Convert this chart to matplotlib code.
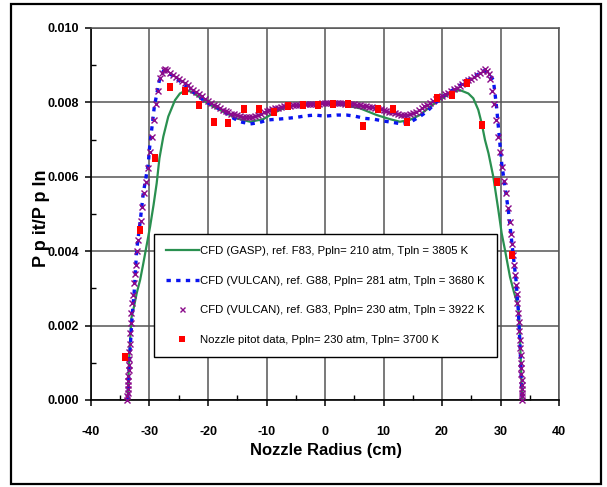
import matplotlib
matplotlib.use("Agg")
import matplotlib.pyplot as plt
from matplotlib.patches import Rectangle
from matplotlib.ticker import MultipleLocator, FormatStrFormatter

# ---------------- data ----------------
gasp_x = [-33.75, -33.45, -33.1, -32.65, -32.19, -31.6, -31.06, -30.5, -29.9, -29.3, -28.77,
          -28.3, -27.64, -26.79, -25.64, -24.8, -23.93, -23.08, -22.0, -21.0, -20.0, -18.8,
          -17.4, -15.1, -12.8, -10.55, -8.84, -6.55, -4.5, -2.56, 0.0, 3.13, 6.0, 8.84,
          11.1, 12.8, 14.5, 16.2, 17.95, 19.5, 21.0, 22.3, 23.08, 24.5, 25.35, 26.2, 26.78,
          27.35, 27.95, 28.77, 29.63, 30.2, 30.77, 31.62, 32.3, 33.04, 33.3, 33.5, 33.7]
gasp_y = [0.0, 1.2, 2.2, 2.51, 2.87, 3.23, 3.67, 4.15, 4.66, 5.25, 5.83,
          6.5, 7.08, 7.62, 8.06, 8.24, 8.31, 8.30, 8.20, 8.09, 7.97, 7.86,
          7.75, 7.57, 7.48, 7.55, 7.71, 7.88, 7.94, 7.97, 7.97, 7.93, 7.84, 7.66,
          7.55, 7.48, 7.53, 7.66, 7.88, 8.06, 8.20, 8.30, 8.33, 8.24, 8.11, 7.80, 7.44,
          6.99, 6.63, 6.00, 5.11, 4.48, 4.03, 3.31, 2.90, 2.51, 1.80, 0.90, 0.0]

vulcan88_x = [-33.7, -33.45, -33.2, -33.04, -32.87, -32.65, -32.48, -32.19, -31.6, -31.06,
              -30.2, -30.03, -29.18, -28.3, -27.6, -26.0, -24.0, -22.0, -20.8, -19.4,
              -17.66, -15.95, -14.5, -12.8, -11.2, -9.7, -7.98, -6.55, -4.8, -3.25, -1.7,
              0.0, 2.0, 3.7, 5.1, 6.84, 8.26, 9.97, 11.67, 13.1, 14.5, 16.2, 17.4, 18.8,
              20.5, 22.5, 24.5, 26.0, 27.3, 28.0, 28.77, 29.06, 29.35, 30.2, 31.33, 32.08,
              32.65, 33.04, 33.3, 33.5, 33.7]
vulcan88_y = [0.0, 1.0, 1.66, 2.06, 2.46, 2.82, 3.27, 4.03, 4.79, 5.56,
              6.36, 6.72, 7.88, 8.60, 8.85, 8.72, 8.47, 8.22, 8.06, 7.93,
              7.80, 7.60, 7.48, 7.42, 7.46, 7.53, 7.55, 7.57, 7.60, 7.64, 7.66,
              7.63, 7.66, 7.66, 7.63, 7.57, 7.55, 7.50, 7.46, 7.42, 7.46, 7.62, 7.75, 7.97,
              8.20, 8.40, 8.60, 8.74, 8.86, 8.78, 8.60, 8.24, 7.84, 6.36, 5.11, 4.03,
              3.22, 2.42, 1.60, 0.80, 0.0]

vulcan83_x = [-33.85, -33.8, -33.76, -33.72, -33.69, -33.66, -33.62, -33.58, -33.54, -33.5,
              -33.45, -33.4, -33.33, -33.21, -33.11, -32.99, -32.87, -32.65, -32.48, -32.31,
              -32.09, -31.91, -31.5, -31.23, -30.99, -30.65, -30.31, -29.9, -29.57, -29.28,
              -28.94, -28.6, -28.2, -27.9, -27.6, -27.3,
              -27.0, -26.5, -26.0, -25.5, -25.0, -24.5, -24.0, -23.5, -23.0, -22.5, -22.0,
              -21.5, -21.0, -20.5, -20.0, -19.5, -19.0, -18.5, -18.0, -17.5, -17.0, -16.5,
              -16.0, -15.5, -15.0, -14.5, -14.0, -13.5, -13.0, -12.5, -12.0, -11.5, -11.0,
              -10.5, -10.0, -9.5, -9.0, -8.5, -8.0, -7.5, -7.0, -6.5, -6.0, -5.5, -5.0,
              -4.5, -4.0, -3.5, -3.0, -2.5, -2.0, -1.5, -1.0, -0.5, 0.0, 0.5, 1.0, 1.5,
              2.0, 2.5, 3.0, 3.5, 4.0, 4.5, 5.0, 5.5, 6.0, 6.5, 7.0, 7.5, 8.0, 8.5, 9.0,
              9.5, 10.0, 10.5, 11.0, 11.5, 12.0, 12.5, 13.0, 13.5, 14.0, 14.5, 15.0, 15.5,
              16.0, 16.5, 17.0, 17.5, 18.0, 18.5, 19.0, 19.5, 20.0, 20.5, 21.0, 21.5, 22.0,
              22.5, 23.0, 23.5, 24.0, 24.5, 25.0, 25.5, 26.0, 26.5, 27.0, 27.35,
              27.7, 28.0, 28.2, 28.6, 28.9, 29.23, 29.63, 29.91, 30.2, 30.6, 30.94, 31.33,
              31.62, 31.79, 32.0, 32.15, 32.3, 32.48, 32.6, 32.75, 32.9, 33.0, 33.1, 33.2,
              33.3, 33.37, 33.43, 33.48, 33.52, 33.56, 33.6, 33.63, 33.66, 33.7, 33.73, 33.76]
vulcan83_y = [0.0, 0.1, 0.2, 0.3, 0.4, 0.5, 0.65, 0.8, 0.95, 1.1,
              1.3, 1.5, 1.79, 2.06, 2.34, 2.60, 2.82, 3.14, 3.40, 3.63,
              4.0, 4.3, 4.82, 5.18, 5.56, 5.87, 6.23, 6.67, 7.08, 7.53,
              7.95, 8.31, 8.65, 8.80, 8.87, 8.90,
              8.86, 8.80, 8.74, 8.69, 8.64, 8.58, 8.52, 8.46, 8.40, 8.34, 8.28,
              8.22, 8.16, 8.10, 8.04, 7.99, 7.94, 7.89, 7.84, 7.80, 7.76, 7.73,
              7.70, 7.68, 7.66, 7.64, 7.62, 7.61, 7.60, 7.61, 7.63, 7.66, 7.70,
              7.73, 7.76, 7.79, 7.82, 7.84, 7.86, 7.88, 7.89, 7.90, 7.91, 7.92, 7.93,
              7.94, 7.95, 7.95, 7.96, 7.96, 7.97, 7.97, 7.97, 7.98, 7.98, 7.98, 7.98, 7.98,
              7.98, 7.98, 7.98, 7.97, 7.97, 7.96, 7.95, 7.94, 7.93, 7.91, 7.90, 7.88, 7.87, 7.85, 7.83,
              7.81, 7.79, 7.77, 7.75, 7.73, 7.71, 7.69, 7.67, 7.66, 7.66, 7.68, 7.71, 7.74,
              7.79, 7.84, 7.89, 7.94, 7.99, 8.05, 8.10, 8.14, 8.18, 8.22, 8.26, 8.30, 8.35,
              8.39, 8.44, 8.49, 8.54, 8.59, 8.64, 8.69, 8.74, 8.79, 8.85, 8.90,
              8.85, 8.75, 8.62, 8.31, 7.96, 7.53, 7.06, 6.67, 6.27, 5.90, 5.56, 5.15,
              4.79, 4.45, 4.19, 3.90, 3.63, 3.36, 3.10, 2.85, 2.60, 2.35, 2.10, 1.85,
              1.60, 1.40, 1.20, 1.00, 0.85, 0.70, 0.55, 0.40, 0.30, 0.20, 0.10, 0.0]

pitot_x = [-34.24, -31.7, -29.06, -26.5, -23.9, -21.5, -18.9, -16.5, -13.9, -11.3, -8.7,
           -6.27, -3.7, -1.15, 1.37, 3.88, 6.55, 9.0, 11.57, 14.07, 19.15, 21.66, 24.27,
           26.84, 29.35, 31.97]
pitot_y = [1.16, 4.57, 6.51, 8.41, 8.31, 7.93, 7.46, 7.44, 7.83, 7.83, 7.73,
           7.90, 7.92, 7.93, 7.95, 7.95, 7.37, 7.82, 7.82, 7.46, 8.11, 8.21, 8.53,
           7.40, 5.86, 3.90]

labels = ["CFD (GASP), ref. F83, Ppln= 210 atm, Tpln = 3805 K",
          "CFD (VULCAN), ref. G88, Ppln= 281 atm, Tpln = 3680 K",
          "CFD (VULCAN), ref. G83, Ppln= 230 atm, Tpln = 3922 K",
          "Nozzle pitot data, Ppln= 230 atm, Tpln= 3700 K"]
x_label = "Nozzle Radius (cm)"
y_label = "P p it/P p ln"

scale = 1e-3

# ---------------- plot ----------------
plt.rcParams['font.family'] = ['Liberation Sans', 'DejaVu Sans']
plt.rcParams['axes.unicode_minus'] = False

W, H = 607, 487
fig = plt.figure(figsize=(W / 100, H / 100), dpi=100)
ax = fig.add_axes([91 / W, 1 - 400 / H, (559 - 91) / W, (400 - 28) / H])

rect_marker = [(-0.75, -1), (0.75, -1), (0.75, 1), (-0.75, 1), (-0.75, -1)]

ax.plot(gasp_x, [v * scale for v in gasp_y], color='#2a9050', lw=1.6, label=labels[0], zorder=3)
ax.plot(vulcan88_x, [v * scale for v in vulcan88_y], color='#0a14f0', lw=2.4,
        linestyle=(0, (1.3, 1.6)), label=labels[1], zorder=4)
ax.plot(vulcan83_x, [v * scale for v in vulcan83_y], linestyle='none', marker='x',
        color='#8a0a8a', markersize=4.5, mew=1.0, label=labels[2], zorder=5, clip_on=False)
ax.plot(pitot_x, [v * scale for v in pitot_y], linestyle='none', marker=rect_marker,
        color='#ff0000', markersize=6, mew=0, label=labels[3], zorder=6)

ax.set_xlim(-40, 40)
ax.set_ylim(0, 0.010)
ax.xaxis.set_major_locator(MultipleLocator(10))
ax.xaxis.set_minor_locator(MultipleLocator(5))
ax.yaxis.set_major_locator(MultipleLocator(0.002))
ax.yaxis.set_minor_locator(MultipleLocator(0.001))
ax.yaxis.set_major_formatter(FormatStrFormatter('%.3f'))

ax.grid(True, which='major', color='#555555', lw=1.1, zorder=0)
ax.set_axisbelow(True)
for s in ['top', 'right']:
    ax.spines[s].set_color('#555555')
    ax.spines[s].set_linewidth(1.1)
for s in ['left', 'bottom']:
    ax.spines[s].set_color('black')
    ax.spines[s].set_linewidth(1.2)

ax.tick_params(which='major', direction='out', length=4.5, width=1.1,
               labelsize=9, top=False, right=False)
ax.tick_params(axis='x', which='major', pad=14)
ax.tick_params(axis='y', which='major', pad=4)
ax.tick_params(which='minor', direction='in', length=3.5, width=1.0, top=False, right=False)
for lab in ax.get_xticklabels() + ax.get_yticklabels():
    lab.set_fontweight('bold')

fig.text(326 / W, 1 - 451 / H, x_label, ha='center', va='center',
         fontsize=12, fontweight='bold')
fig.text(41 / W, 1 - 218 / H, y_label, ha='center', va='center', rotation=90,
         fontsize=13, fontweight='bold')

leg = ax.legend(loc='upper left', bbox_to_anchor=(154 / W, 1 - 234 / H),
                bbox_transform=fig.transFigure, borderaxespad=0, fontsize=8.2,
                frameon=True, fancybox=False, edgecolor='black', framealpha=1,
                handlelength=2.9, handletextpad=0.1, labelspacing=1.73,
                borderpad=1.05, markerscale=0.8)
leg.get_frame().set_linewidth(1.0)

fig.patches.append(Rectangle((11 / W, 1 - 484 / H), (601 - 11) / W, (484 - 4) / H,
                             transform=fig.transFigure, fill=False, edgecolor='black',
                             lw=1.6))

fig.savefig('out.png', dpi=100)
